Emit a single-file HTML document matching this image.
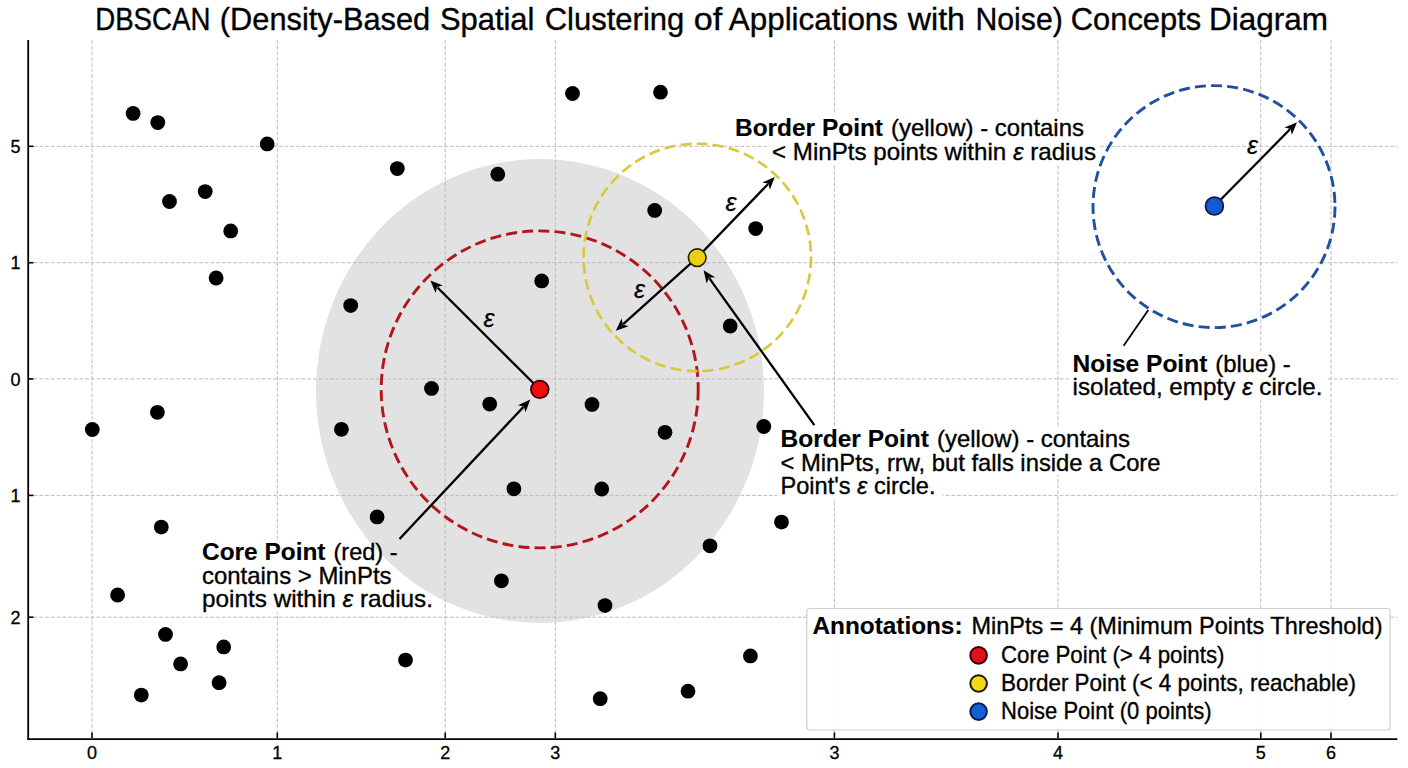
<!DOCTYPE html><html><head><meta charset="utf-8"><style>html,body{margin:0;padding:0;background:#fff;}svg{display:block;}text{font-family:"Liberation Sans",sans-serif;}</style></head><body>
<svg width="1408" height="768" viewBox="0 0 1408 768">
<rect width="1408" height="768" fill="#fff"/>
<ellipse cx="540" cy="391" rx="224" ry="232" fill="#e2e2e2"/>
<line x1="92" y1="40" x2="92" y2="738" stroke="#bcbcbc" stroke-width="1" stroke-dasharray="3.8 1.9"/>
<line x1="277.3" y1="40" x2="277.3" y2="738" stroke="#bcbcbc" stroke-width="1" stroke-dasharray="3.8 1.9"/>
<line x1="445.2" y1="40" x2="445.2" y2="738" stroke="#bcbcbc" stroke-width="1" stroke-dasharray="3.8 1.9"/>
<line x1="555.3" y1="40" x2="555.3" y2="738" stroke="#bcbcbc" stroke-width="1" stroke-dasharray="3.8 1.9"/>
<line x1="834.4" y1="40" x2="834.4" y2="738" stroke="#bcbcbc" stroke-width="1" stroke-dasharray="3.8 1.9"/>
<line x1="1058" y1="40" x2="1058" y2="738" stroke="#bcbcbc" stroke-width="1" stroke-dasharray="3.8 1.9"/>
<line x1="1260.8" y1="40" x2="1260.8" y2="738" stroke="#bcbcbc" stroke-width="1" stroke-dasharray="3.8 1.9"/>
<line x1="1331" y1="40" x2="1331" y2="738" stroke="#bcbcbc" stroke-width="1" stroke-dasharray="3.8 1.9"/>
<line x1="28" y1="146.3" x2="1397" y2="146.3" stroke="#bcbcbc" stroke-width="1" stroke-dasharray="3.8 1.9"/>
<line x1="28" y1="262.7" x2="1397" y2="262.7" stroke="#bcbcbc" stroke-width="1" stroke-dasharray="3.8 1.9"/>
<line x1="28" y1="378.9" x2="1397" y2="378.9" stroke="#bcbcbc" stroke-width="1" stroke-dasharray="3.8 1.9"/>
<line x1="28" y1="495.4" x2="1397" y2="495.4" stroke="#bcbcbc" stroke-width="1" stroke-dasharray="3.8 1.9"/>
<line x1="28" y1="617.2" x2="1397" y2="617.2" stroke="#bcbcbc" stroke-width="1" stroke-dasharray="3.8 1.9"/>
<rect x="731" y="113" width="356" height="28" fill="#fff"/>
<rect x="769" y="141" width="331" height="23" fill="#fff"/>
<rect x="199" y="540" width="237" height="72" fill="#fff"/>
<rect x="777" y="427" width="356" height="24" fill="#fff"/>
<rect x="777" y="451" width="386" height="24" fill="#fff"/>
<rect x="777" y="475" width="166" height="24" fill="#fff"/>
<rect x="1070" y="352" width="256" height="48" fill="#fff"/>
<clipPath id="cb"><rect x="199" y="540" width="237" height="72"/></clipPath>
<ellipse cx="540" cy="391" rx="224" ry="232" fill="#e2e2e2" clip-path="url(#cb)"/>
<circle cx="539.7" cy="389.4" r="158.5" fill="none" stroke="#b5141c" stroke-width="2.9" stroke-dasharray="11 5.2"/>
<circle cx="697.3" cy="257.4" r="113.7" fill="none" stroke="#d9c93a" stroke-width="2.6" stroke-dasharray="11 5.2"/>
<circle cx="1214" cy="206.6" r="121" fill="none" stroke="#1f519f" stroke-width="2.9" stroke-dasharray="11 5.2"/>
<circle cx="133.1" cy="113.4" r="7.4" fill="#000"/>
<circle cx="157.8" cy="122.6" r="7.4" fill="#000"/>
<circle cx="267.2" cy="143.9" r="7.4" fill="#000"/>
<circle cx="205.2" cy="191.6" r="7.4" fill="#000"/>
<circle cx="169.5" cy="201.5" r="7.4" fill="#000"/>
<circle cx="230.7" cy="230.9" r="7.4" fill="#000"/>
<circle cx="216.1" cy="278" r="7.4" fill="#000"/>
<circle cx="397.3" cy="168.6" r="7.4" fill="#000"/>
<circle cx="497.8" cy="174.2" r="7.4" fill="#000"/>
<circle cx="572.5" cy="93.5" r="7.4" fill="#000"/>
<circle cx="660.5" cy="92.2" r="7.4" fill="#000"/>
<circle cx="654.7" cy="210.4" r="7.4" fill="#000"/>
<circle cx="755.7" cy="228.6" r="7.4" fill="#000"/>
<circle cx="730.2" cy="326" r="7.4" fill="#000"/>
<circle cx="350.7" cy="305.6" r="7.4" fill="#000"/>
<circle cx="541.7" cy="280.9" r="7.4" fill="#000"/>
<circle cx="431.5" cy="388.4" r="7.4" fill="#000"/>
<circle cx="489.7" cy="404.1" r="7.4" fill="#000"/>
<circle cx="592" cy="404.4" r="7.4" fill="#000"/>
<circle cx="341.4" cy="429.3" r="7.4" fill="#000"/>
<circle cx="665" cy="432.3" r="7.4" fill="#000"/>
<circle cx="763.8" cy="426.5" r="7.4" fill="#000"/>
<circle cx="92.3" cy="429.5" r="7.4" fill="#000"/>
<circle cx="157.4" cy="412.3" r="7.4" fill="#000"/>
<circle cx="161.3" cy="527.1" r="7.4" fill="#000"/>
<circle cx="513.9" cy="488.8" r="7.4" fill="#000"/>
<circle cx="601.7" cy="489" r="7.4" fill="#000"/>
<circle cx="377.1" cy="516.9" r="7.4" fill="#000"/>
<circle cx="781.5" cy="522.1" r="7.4" fill="#000"/>
<circle cx="710" cy="545.8" r="7.4" fill="#000"/>
<circle cx="501.4" cy="580.8" r="7.4" fill="#000"/>
<circle cx="605" cy="605.6" r="7.4" fill="#000"/>
<circle cx="117.6" cy="595" r="7.4" fill="#000"/>
<circle cx="165.5" cy="634.4" r="7.4" fill="#000"/>
<circle cx="223.7" cy="646.9" r="7.4" fill="#000"/>
<circle cx="180.6" cy="663.9" r="7.4" fill="#000"/>
<circle cx="219.1" cy="682.7" r="7.4" fill="#000"/>
<circle cx="141.3" cy="695.1" r="7.4" fill="#000"/>
<circle cx="405.5" cy="660.1" r="7.4" fill="#000"/>
<circle cx="600.2" cy="698.7" r="7.4" fill="#000"/>
<circle cx="688" cy="691.2" r="7.4" fill="#000"/>
<circle cx="750.4" cy="655.9" r="7.4" fill="#000"/>
<line x1="539.8" y1="389.5" x2="437.5" y2="287.5" stroke="#000" stroke-width="2.3"/><polygon points="430.4,280.4 442.9,285.5 437.0,287.0 435.6,292.9" fill="#000"/>
<line x1="399.5" y1="539.0" x2="523.5" y2="406.9" stroke="#000" stroke-width="2.3"/><polygon points="530.3,399.6 525.5,412.3 523.9,406.4 518.0,405.2" fill="#000"/>
<line x1="697.2" y1="257.6" x2="767.9" y2="184.2" stroke="#000" stroke-width="2.3"/><polygon points="774.8,177.0 769.9,189.6 768.3,183.8 762.4,182.4" fill="#000"/>
<line x1="697.2" y1="257.6" x2="623.2" y2="324.1" stroke="#000" stroke-width="2.3"/><polygon points="615.8,330.8 621.6,318.6 622.8,324.5 628.6,326.3" fill="#000"/>
<line x1="814.3" y1="425.2" x2="709.4" y2="278.3" stroke="#000" stroke-width="2.3"/><polygon points="703.6,270.2 715.1,277.3 709.0,277.8 706.6,283.4" fill="#000"/>
<line x1="1214.4" y1="206.0" x2="1290.0" y2="129.3" stroke="#000" stroke-width="2.3"/><polygon points="1297.0,122.2 1291.9,134.8 1290.4,128.9 1284.5,127.5" fill="#000"/>
<line x1="1148.3" y1="310.1" x2="1123.6" y2="345.8" stroke="#000" stroke-width="1.8"/>
<circle cx="539.8" cy="389.4" r="8.8" fill="#ee0c0c" stroke="#2a0000" stroke-width="1.8"/>
<circle cx="697.2" cy="257.7" r="8.8" fill="#ebcf10" stroke="#222200" stroke-width="1.6"/>
<circle cx="1214.4" cy="206" r="8.9" fill="#1659d6" stroke="#0a1a40" stroke-width="1.8"/>
<text x="489" y="327" font-size="25" font-style="italic" text-anchor="middle" fill="#000" stroke="#000" stroke-width="0.25">ε</text>
<text x="731" y="210.9" font-size="25" font-style="italic" text-anchor="middle" fill="#000" stroke="#000" stroke-width="0.25">ε</text>
<text x="639.6" y="298.4" font-size="25" font-style="italic" text-anchor="middle" fill="#000" stroke="#000" stroke-width="0.25">ε</text>
<text x="1252.5" y="154.2" font-size="25" font-style="italic" text-anchor="middle" fill="#000" stroke="#000" stroke-width="0.25">ε</text>
<line x1="28.2" y1="40" x2="28.2" y2="739.5" stroke="#000" stroke-width="1.8"/>
<line x1="27.3" y1="739.1" x2="1397.5" y2="739.1" stroke="#000" stroke-width="1.8"/>
<line x1="92" y1="738" x2="92" y2="732.5" stroke="#000" stroke-width="1.6"/>
<line x1="277.3" y1="738" x2="277.3" y2="732.5" stroke="#000" stroke-width="1.6"/>
<line x1="445.2" y1="738" x2="445.2" y2="732.5" stroke="#000" stroke-width="1.6"/>
<line x1="555.3" y1="738" x2="555.3" y2="732.5" stroke="#000" stroke-width="1.6"/>
<line x1="834.4" y1="738" x2="834.4" y2="732.5" stroke="#000" stroke-width="1.6"/>
<line x1="1058" y1="738" x2="1058" y2="732.5" stroke="#000" stroke-width="1.6"/>
<line x1="1260.8" y1="738" x2="1260.8" y2="732.5" stroke="#000" stroke-width="1.6"/>
<line x1="1331" y1="738" x2="1331" y2="732.5" stroke="#000" stroke-width="1.6"/>
<line x1="28" y1="146.3" x2="33.5" y2="146.3" stroke="#000" stroke-width="1.6"/>
<line x1="28" y1="262.7" x2="33.5" y2="262.7" stroke="#000" stroke-width="1.6"/>
<line x1="28" y1="378.9" x2="33.5" y2="378.9" stroke="#000" stroke-width="1.6"/>
<line x1="28" y1="495.4" x2="33.5" y2="495.4" stroke="#000" stroke-width="1.6"/>
<line x1="28" y1="617.2" x2="33.5" y2="617.2" stroke="#000" stroke-width="1.6"/>
<text x="92" y="759" font-size="18" text-anchor="middle" fill="#000" stroke="#000" stroke-width="0.3">0</text>
<text x="277.3" y="759" font-size="18" text-anchor="middle" fill="#000" stroke="#000" stroke-width="0.3">1</text>
<text x="445.2" y="759" font-size="18" text-anchor="middle" fill="#000" stroke="#000" stroke-width="0.3">2</text>
<text x="555.3" y="759" font-size="18" text-anchor="middle" fill="#000" stroke="#000" stroke-width="0.3">3</text>
<text x="834.4" y="759" font-size="18" text-anchor="middle" fill="#000" stroke="#000" stroke-width="0.3">3</text>
<text x="1058" y="759" font-size="18" text-anchor="middle" fill="#000" stroke="#000" stroke-width="0.3">4</text>
<text x="1260.8" y="759" font-size="18" text-anchor="middle" fill="#000" stroke="#000" stroke-width="0.3">5</text>
<text x="1331" y="759" font-size="18" text-anchor="middle" fill="#000" stroke="#000" stroke-width="0.3">6</text>
<text x="20.5" y="152.9" font-size="18" text-anchor="end" fill="#000" stroke="#000" stroke-width="0.3">5</text>
<text x="20.5" y="269.3" font-size="18" text-anchor="end" fill="#000" stroke="#000" stroke-width="0.3">1</text>
<text x="20.5" y="385.5" font-size="18" text-anchor="end" fill="#000" stroke="#000" stroke-width="0.3">0</text>
<text x="20.5" y="502.0" font-size="18" text-anchor="end" fill="#000" stroke="#000" stroke-width="0.3">1</text>
<text x="20.5" y="623.8000000000001" font-size="18" text-anchor="end" fill="#000" stroke="#000" stroke-width="0.3">2</text>
<text x="95.2" y="29.8" font-size="30.5" textLength="115.2" lengthAdjust="spacingAndGlyphs" fill="#000" stroke="#000" stroke-width="0.35">DBSCAN</text>
<text x="219.8" y="29.8" font-size="30.5" textLength="210.39999999999998" lengthAdjust="spacingAndGlyphs" fill="#000" stroke="#000" stroke-width="0.35">(Density-Based</text>
<text x="439.90000000000003" y="29.8" font-size="30.5" textLength="94.49999999999996" lengthAdjust="spacingAndGlyphs" fill="#000" stroke="#000" stroke-width="0.35">Spatial</text>
<text x="544.6999999999999" y="29.8" font-size="30.5" textLength="139.59999999999997" lengthAdjust="spacingAndGlyphs" fill="#000" stroke="#000" stroke-width="0.35">Clustering</text>
<text x="693.8" y="29.8" font-size="30.5" textLength="28.400000000000045" lengthAdjust="spacingAndGlyphs" fill="#000" stroke="#000" stroke-width="0.35">of</text>
<text x="728.8" y="29.8" font-size="30.5" textLength="169.2" lengthAdjust="spacingAndGlyphs" fill="#000" stroke="#000" stroke-width="0.35">Applications</text>
<text x="907.8" y="29.8" font-size="30.5" textLength="57.2" lengthAdjust="spacingAndGlyphs" fill="#000" stroke="#000" stroke-width="0.35">with</text>
<text x="975.5" y="29.8" font-size="30.5" textLength="87.29999999999991" lengthAdjust="spacingAndGlyphs" fill="#000" stroke="#000" stroke-width="0.35">Noise)</text>
<text x="1070.8" y="29.8" font-size="30.5" textLength="130.40000000000003" lengthAdjust="spacingAndGlyphs" fill="#000" stroke="#000" stroke-width="0.35">Concepts</text>
<text x="1209.1" y="29.8" font-size="30.5" textLength="118.90000000000005" lengthAdjust="spacingAndGlyphs" fill="#000" stroke="#000" stroke-width="0.35">Diagram</text>
<text x="735" y="135.7" font-size="23.6" font-weight="bold" textLength="148" lengthAdjust="spacingAndGlyphs" fill="#000" stroke="#000" stroke-width="0.15">Border Point</text>
<text x="891" y="135.7" font-size="24" textLength="193" lengthAdjust="spacingAndGlyphs" fill="#000" stroke="#000" stroke-width="0.35">(yellow) - contains</text>
<text x="772" y="160.2" font-size="24" textLength="324" lengthAdjust="spacingAndGlyphs" fill="#000" stroke="#000" stroke-width="0.35">&lt; MinPts points within <tspan font-style="italic">ε</tspan> radius</text>
<text x="202" y="559.9" font-size="23.6" font-weight="bold" textLength="123.5" lengthAdjust="spacingAndGlyphs" fill="#000" stroke="#000" stroke-width="0.15">Core Point</text>
<text x="333.5" y="559.9" font-size="24" textLength="64" lengthAdjust="spacingAndGlyphs" fill="#000" stroke="#000" stroke-width="0.35">(red) -</text>
<text x="202" y="583.6" font-size="24" textLength="189.5" lengthAdjust="spacingAndGlyphs" fill="#000" stroke="#000" stroke-width="0.35">contains &gt; MinPts</text>
<text x="202" y="607.3" font-size="24" textLength="231" lengthAdjust="spacingAndGlyphs" fill="#000" stroke="#000" stroke-width="0.35">points within <tspan font-style="italic">ε</tspan> radius.</text>
<text x="780.5" y="447.4" font-size="23.6" font-weight="bold" textLength="148.5" lengthAdjust="spacingAndGlyphs" fill="#000" stroke="#000" stroke-width="0.15">Border Point</text>
<text x="937" y="447.4" font-size="24" textLength="193" lengthAdjust="spacingAndGlyphs" fill="#000" stroke="#000" stroke-width="0.35">(yellow) - contains</text>
<text x="780.5" y="470.8" font-size="24" textLength="380" lengthAdjust="spacingAndGlyphs" fill="#000" stroke="#000" stroke-width="0.35">&lt; MinPts, rrw, but falls inside a Core</text>
<text x="780.5" y="494.3" font-size="24" textLength="155" lengthAdjust="spacingAndGlyphs" fill="#000" stroke="#000" stroke-width="0.35">Point's <tspan font-style='italic'>ε</tspan> circle.</text>
<text x="1072.5" y="372" font-size="23.6" font-weight="bold" textLength="134.8" lengthAdjust="spacingAndGlyphs" fill="#000" stroke="#000" stroke-width="0.15">Noise Point</text>
<text x="1215.3" y="372" font-size="24" textLength="75.5" lengthAdjust="spacingAndGlyphs" fill="#000" stroke="#000" stroke-width="0.35">(blue) -</text>
<text x="1072.5" y="394.7" font-size="24" textLength="250" lengthAdjust="spacingAndGlyphs" fill="#000" stroke="#000" stroke-width="0.35">isolated, empty <tspan font-style="italic">ε</tspan> circle.</text>
<rect x="806.8" y="608.5" width="583.2" height="121.5" rx="3" fill="#fff" fill-opacity="0.92" stroke="#cfcfcf" stroke-width="1.2"/>
<text x="812.5" y="634" font-size="23.6" font-weight="bold" textLength="150" lengthAdjust="spacingAndGlyphs" fill="#000" stroke="#000" stroke-width="0.15">Annotations:</text>
<text x="971.5" y="634" font-size="24" textLength="411" lengthAdjust="spacingAndGlyphs" fill="#000" stroke="#000" stroke-width="0.35">MinPts = 4 (Minimum Points Threshold)</text>
<circle cx="978.6" cy="655.4" r="8.3" fill="#e3121a" stroke="#3a0000" stroke-width="2"/>
<text x="1001" y="662.5" font-size="24" textLength="223.5" lengthAdjust="spacingAndGlyphs" fill="#000" stroke="#000" stroke-width="0.35">Core Point (&gt; 4 points)</text>
<circle cx="978.6" cy="683.5" r="8.3" fill="#f0d818" stroke="#1a1a00" stroke-width="2"/>
<text x="1001" y="690.6" font-size="24" textLength="355" lengthAdjust="spacingAndGlyphs" fill="#000" stroke="#000" stroke-width="0.35">Border Point (&lt; 4 points, reachable)</text>
<circle cx="978.6" cy="711.6" r="8.3" fill="#1560d8" stroke="#07204f" stroke-width="2"/>
<text x="1001" y="718.7" font-size="24" textLength="210.5" lengthAdjust="spacingAndGlyphs" fill="#000" stroke="#000" stroke-width="0.35">Noise Point (0 points)</text>
</svg></body></html>
